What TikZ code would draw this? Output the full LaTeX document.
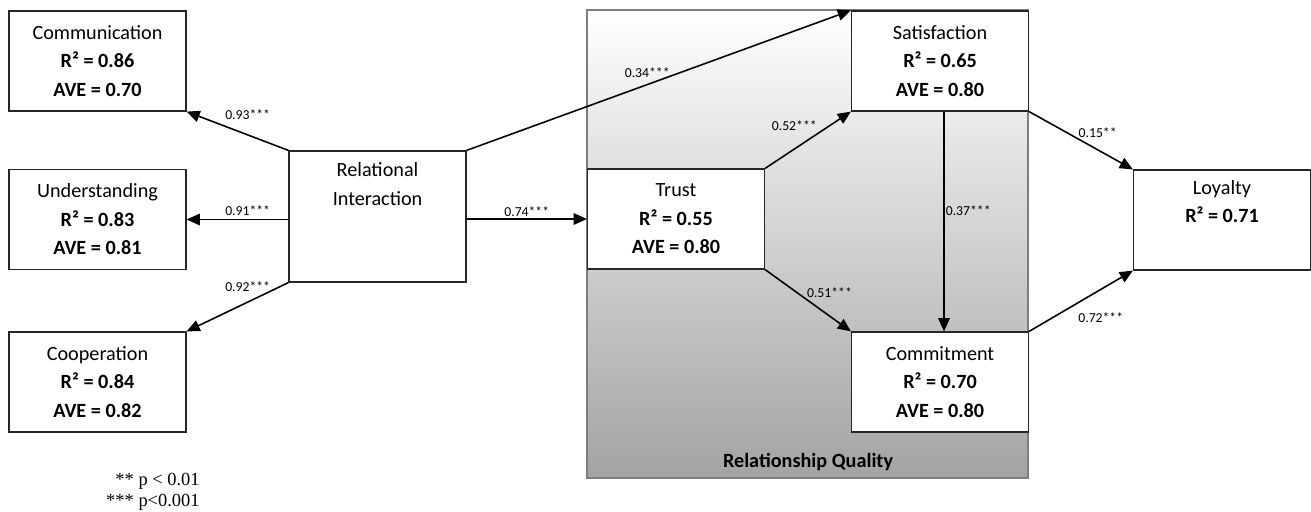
\documentclass[tikz,border=0pt]{standalone}
\usepackage{fontspec}
\setmainfont{Carlito}
\newfontfamily\notefont{Liberation Serif}
\usetikzlibrary{arrows.meta}
\definecolor{rqgray}{RGB}{163,163,163}
\definecolor{rqedge}{RGB}{125,125,125}

\begin{document}
\begin{tikzpicture}[x=0.02cm, y=-0.02cm,
  box/.style={draw=black!85, line width=0.7pt, fill=white, minimum width=3.54cm,
    minimum height=2cm, inner sep=0pt, align=center,
    font=\fontsize{11.5}{16.2}\selectfont},
  arr/.style={-{Triangle[length=7.5pt,width=6.5pt]}, line width=0.9pt},
  coef/.style={font=\fontsize{7.8}{9}\selectfont, inner sep=0pt}]

\useasboundingbox (0,0) rectangle (1311,511);

% Relationship quality frame
\shadedraw[top color=white, bottom color=rqgray, draw=rqedge, line width=0.8pt]
  (587,10) rectangle (1028,478);
\node[font=\bfseries\fontsize{11.5}{14}\selectfont] (rqlabel) at (808,462) {Relationship Quality};

% Constructs
\node[box] (commun) at (97.5,61) {Communication\\\textbf{R² = 0.86}\\\textbf{AVE = 0.70}};   % Communication
\node[box] (underst) at (97.5,219.5) {Understanding\\\textbf{R² = 0.83}\\\textbf{AVE = 0.81}}; % Understanding
\node[box] (coop) at (97.5,382) {Cooperation\\\textbf{R² = 0.84}\\\textbf{AVE = 0.82}};        % Cooperation
\node[box, minimum height=2.62cm] (relint) at (377.5,216.5) {Relational\\Interaction\\\strut\\\strut}; % Relational interaction
\node[box] (trust) at (676,219) {Trust\\\textbf{R² = 0.55}\\\textbf{AVE = 0.80}};               % Trust
\node[box] (satis) at (940,61) {Satisfaction\\\textbf{R² = 0.65}\\\textbf{AVE = 0.80}};        % Satisfaction
\node[box] (commit) at (940,382) {Commitment\\\textbf{R² = 0.70}\\\textbf{AVE = 0.80}};        % Commitment
\node[box] (loyal) at (1222,220) {Loyalty\\\textbf{R² = 0.71}\\\strut};                        % Loyalty

% Paths
\draw[arr] (relint.north west) -- (commun.south east) node[coef, pos=0.4, shift={(0,-20)}] {0.93***};
\draw[arr] (relint.west |- underst.east) -- (underst.east) node[coef, pos=0.4, shift={(0,-9)}] {0.91***};
\draw[arr] (relint.south west) -- (coop.north east) node[coef, pos=0.4, shift={(0,-15)}] {0.92***};
\draw[arr] (relint.north east) -- (satis.north west) node[coef, pos=0.47, shift={(0,-12)}] {0.34***};
\draw[arr] (relint.east |- trust.west) -- (trust.west) node[coef, pos=0.5, shift={(0,-7)}] {0.74***};
\draw[arr] (trust.north east) -- (satis.south west) node[coef, pos=0.34, shift={(0,-23)}] {0.52***};
\draw[arr] (trust.south east) -- (commit.north west) node[coef, pos=0.75, shift={(0,-23)}] {0.51***};
\draw[arr] ([xshift=0.08cm]satis.south) -- ([xshift=0.08cm]commit.north) node[coef, pos=0.45, anchor=west, shift={(1,0)}] {0.37***};
\draw[arr] (satis.south east) -- (loyal.north west) node[coef, pos=0.66, shift={(0,-17)}] {0.15**};
\draw[arr] (commit.north east) -- (loyal.south west) node[coef, pos=0.69, shift={(0,28)}] {0.72***};

% Significance note
\node[font={\notefont\fontsize{10.5}{11.6}\selectfont}, align=right, anchor=east, inner sep=0pt] (note) at (200,492) {** p < 0.01\\*** p<0.001};

\end{tikzpicture}
\end{document}
